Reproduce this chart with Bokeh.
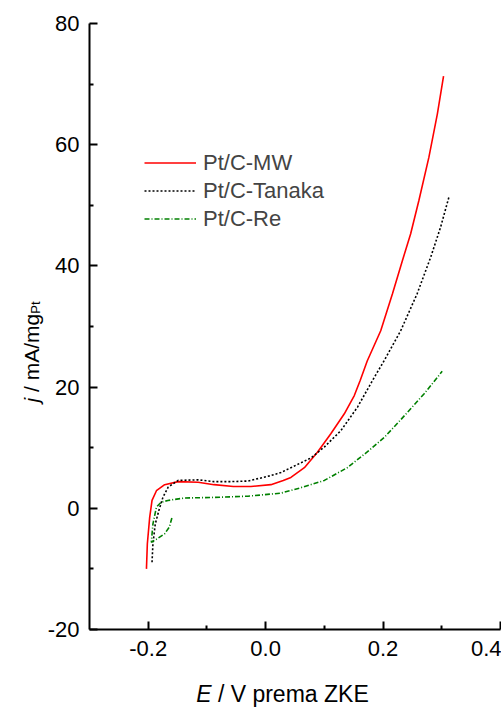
import math
from bokeh.plotting import figure
from bokeh.models import Range1d, Legend, LegendItem, FixedTicker
from bokeh.layouts import row, column
from bokeh.core.properties import value
from bokeh.embed import file_html
from bokeh.resources import INLINE

# ---- data ----
mw_E = [-0.203, -0.2015, -0.1975, -0.1935, -0.186, -0.172, -0.149, -0.115, -0.088, -0.055,
        -0.025, 0.009, 0.03, 0.043, 0.066, 0.0885, 0.111, 0.134, 0.151, 0.161, 0.173, 0.196,
        0.216, 0.233, 0.247, 0.261, 0.278, 0.2925, 0.303]
mw_j = [-10.0, -5.9, -1.5, 1.3, 2.9, 3.9, 4.4, 4.3, 3.9, 3.6,
        3.6, 3.9, 4.6, 5.1, 6.7, 9.3, 12.3, 15.6, 18.6, 21.1, 24.3, 29.3,
        35.4, 40.9, 45.3, 50.8, 57.9, 65.1, 71.3]

tanaka_E = [-0.1935, -0.192, -0.188, -0.182, -0.175, -0.166, -0.149, -0.115, -0.088, -0.06,
            -0.03, 0.009, 0.026, 0.043, 0.077, 0.0998, 0.128, 0.1565, 0.182, 0.202, 0.23,
            0.258, 0.281, 0.298, 0.312]
tanaka_j = [-8.9, -5.9, -2.6, -0.4, 1.8, 3.5, 4.6, 4.7, 4.4, 4.4,
            4.5, 5.4, 5.9, 6.7, 8.3, 10.1, 12.8, 16.7, 21.1, 24.4, 29.3,
            35.4, 41.4, 46.4, 51.3]

re_E = [-0.1597, -0.164, -0.172, -0.186, -0.1946, -0.194, -0.192, -0.186, -0.178, -0.1665,
        -0.138, -0.087, -0.03, 0.026, 0.06, 0.1, 0.139, 0.173, 0.202, 0.23, 0.27, 0.3007]
re_j = [-1.6, -3.1, -4.2, -5.1, -5.6, -4.8, -2.6, 0.2, 1.0, 1.3,
        1.7, 1.8, 2.0, 2.5, 3.4, 4.6, 6.7, 9.3, 11.7, 14.6, 18.9, 22.6]

series_names = ["Pt/C-MW", "Pt/C-Tanaka", "Pt/C-Re"]

x_major = [-0.2, 0.0, 0.2, 0.4]
x_minor = [-0.1, 0.1, 0.3]
x_labels = {-0.2: "-0.2", 0.0: "0.0", 0.2: "0.2", 0.4: "0.4"}
y_major = [-20, 0, 20, 40, 60, 80]
y_minor = [-10, 10, 30, 50, 70]
y_labels = {-20: "-20", 0: "0", 20: "20", 40: "40", 60: "60", 80: "80"}

# axis titles (italic symbol, plain remainder, subscript)
x_title_italic = "E"
x_title_rest = "/ V prema ZKE"
y_title_italic = "j"
y_title_rest = "/ mA/mg"
y_title_sub = "Pt"

FONT = "Liberation Sans"

xr = Range1d(-0.3, 0.4)
yr = Range1d(-20, 80)

# ---- main plot ----
p = figure(width=457, height=672, x_range=xr, y_range=yr,
           output_backend="svg", toolbar_location=None,
           min_border_left=44, min_border_right=1, min_border_top=23, min_border_bottom=43)
p.outline_line_color = None
p.grid.visible = False

for ax in (p.xaxis[0], p.yaxis[0]):
    ax.axis_line_width = 2
    ax.major_tick_line_width = 2
    ax.minor_tick_line_width = 2
    ax.major_tick_in = 8
    ax.major_tick_out = 0
    ax.minor_tick_in = 4
    ax.minor_tick_out = 0
    ax.major_label_text_font = FONT
    ax.major_label_text_font_size = "22px"
    ax.major_label_text_color = "black"

p.xaxis.ticker = FixedTicker(ticks=x_major, minor_ticks=x_minor)
p.xaxis.major_label_overrides = x_labels
p.xaxis.major_label_standoff = 11
p.xaxis.major_label_text_align = "right"
p.yaxis.ticker = FixedTicker(ticks=y_major, minor_ticks=y_minor)
p.yaxis.major_label_overrides = y_labels
p.yaxis.major_label_standoff = 10

r1 = p.line(mw_E, mw_j, line_color="#FF0000", line_width=1.6)
r2 = p.line(tanaka_E, tanaka_j, line_color="black", line_width=1.6, line_dash="2 2")
r3 = p.line(re_E, re_j, line_color="#008000", line_width=1.6, line_dash="5 2 1 2")

legend = Legend(items=[LegendItem(label=series_names[0], renderers=[r1]),
                       LegendItem(label=series_names[1], renderers=[r2]),
                       LegendItem(label=series_names[2], renderers=[r3])],
                location=(55, 397), border_line_color=None, background_fill_alpha=0,
                glyph_width=52, glyph_height=27, label_height=27, label_standoff=7,
                padding=0, margin=0, spacing=1,
                label_text_font=FONT, label_text_font_size="22px")
p.add_layout(legend)

# ---- left strip: y-axis title (rotated), same vertical frame as the main plot ----
left = figure(width=44, height=672, x_range=Range1d(0, 44), y_range=yr,
              output_backend="svg", toolbar_location=None, x_axis_type=None, y_axis_type=None,
              min_border_left=0, min_border_right=0, min_border_top=23, min_border_bottom=43)
left.outline_line_color = None
left.grid.visible = False
left.text(x=[30.5], y=[17.46], text=[y_title_italic], angle=math.pi / 2,
          text_font=value(FONT), text_font_size="21px", text_font_style="italic",
          text_align="left", text_baseline="alphabetic", text_color="black")
left.text(x=[30.5], y=[19.19], text=[y_title_rest], angle=math.pi / 2,
          text_font=value(FONT), text_font_size="21px",
          text_align="left", text_baseline="alphabetic", text_color="black")
left.text(x=[35], y=[32.1], text=[y_title_sub], angle=math.pi / 2,
          text_font=value(FONT), text_font_size="13px",
          text_align="left", text_baseline="alphabetic", text_color="black")

# ---- bottom strip: x-axis title, same horizontal frame as the main plot ----
bottom = figure(width=457, height=36, x_range=xr, y_range=Range1d(0, 36),
                output_backend="svg", toolbar_location=None, x_axis_type=None, y_axis_type=None,
                min_border_left=44, min_border_right=1, min_border_top=0, min_border_bottom=0)
bottom.outline_line_color = None
bottom.grid.visible = False
bottom.text(x=[-0.1182], y=[15], text=[x_title_italic], text_font=value(FONT),
            text_font_size="23px", text_font_style="italic",
            text_align="left", text_baseline="alphabetic", text_color="black")
bottom.text(x=[-0.0813], y=[15], text=[x_title_rest], text_font=value(FONT),
            text_font_size="23px", text_align="left", text_baseline="alphabetic",
            text_color="black")

layout = row(left, column(p, bottom))
open("out.html", "w").write(file_html(layout, INLINE))
